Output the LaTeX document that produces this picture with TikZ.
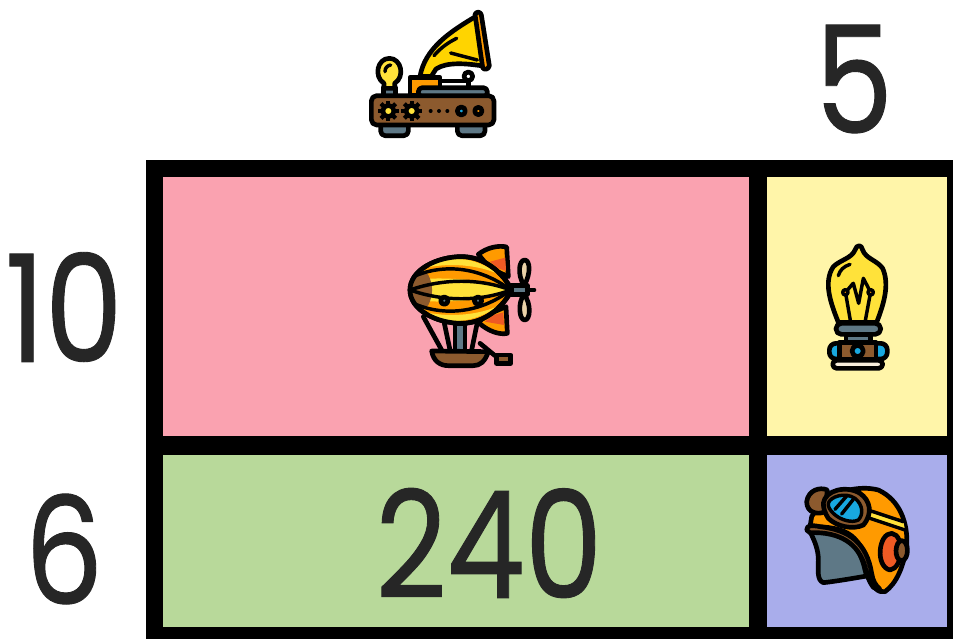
\documentclass[tikz,border=0pt]{standalone}
\usepackage{fontspec}
\setmainfont{Poppins}[FakeStretch=0.83, FakeBold=0.6]
\definecolor{cellpink}{HTML}{FAA2B0}
\definecolor{cellyellow}{HTML}{FFF5A9}
\definecolor{cellgreen}{HTML}{B8D99A}
\definecolor{cellblue}{HTML}{A9ADEB}
\definecolor{icyellow}{HTML}{FFE23A}
\definecolor{icgold}{HTML}{FFD400}
\definecolor{icorange}{HTML}{FF9A00}
\definecolor{icred}{HTML}{EE5A24}
\definecolor{icbrown}{HTML}{8C5A2E}
\definecolor{icslate}{HTML}{5E7886}
\definecolor{icblue}{HTML}{18A8E0}
\definecolor{ictan}{HTML}{EBD3A8}
\definecolor{inkdark}{HTML}{262626}
\begin{document}
\begin{tikzpicture}[x=0.75pt, y=-0.75pt,
  num/.style={font=\fontsize{112}{112}\selectfont, text=inkdark, inner sep=0pt},
  ic/.style={draw=black, line width=3.5pt, line join=round, line cap=round},
  thin/.style={draw=black, line width=2.6pt, line join=round, line cap=round},
  zoomed/.style={x=0.25pt, y=-0.25pt}]
  \useasboundingbox (0,0) rectangle (953,639);
  \clip (0,0) rectangle (953,639);
  % grid
  \fill[black] (146,160) rectangle (953,639);
  \fill[cellpink] (163,177) rectangle (749,436);
  \fill[cellyellow] (767,177) rectangle (947,436);
  \fill[cellgreen] (163,455) rectangle (749,627);
  \fill[cellblue] (767,455) rectangle (947,627);
  % numbers
  \node[num] (top) at (854,79) {5};
  \node[num] (left1) at (64,307) {10};
  \node[num] (left2) at (64,549) {6};
  \node[num] (total) at (489,543) {240};
  % gramophone
  \begin{scope}[shift={(360,5)}, zoomed]
    \filldraw[ic, fill=icslate] (62,355) -- (62,378) to[out=-90,in=180] (75,392) -- (132,392) to[out=0,in=-90] (145,378) -- (145,355) -- cycle;
    \filldraw[ic, fill=icslate] (292,355) -- (292,378) to[out=-90,in=180] (305,392) -- (362,392) to[out=0,in=-90] (375,378) -- (375,355) -- cycle;
    \filldraw[ic, fill=icgold] (180,214) .. controls (195,130) and (270,80) .. (348,34) -- (376,184) .. controls (320,175) and (260,170) .. (228,192) -- (214,214) -- cycle;
    \draw[thin] (222,152) .. controls (240,130) and (265,112) .. (290,100);
    \draw[thin] (272,144) -- (352,165);
    \filldraw[ic, fill=icorange] (345,28) .. controls (350,18) and (362,20) .. (364,30) -- (388,182) .. controls (386,194) and (372,196) .. (368,188) -- cycle;
    \filldraw[ic, fill=white] (240,228) -- (325,228) -- (325,260) -- (240,260) -- cycle;
    \filldraw[ic, fill=white] (325,214) circle (13);
    \filldraw[ic, fill=icorange] (150,218) rectangle (240,272);
    \filldraw[ic, fill=icslate, rounded corners=3pt] (175,248) rectangle (382,275);
    \filldraw[ic, fill=icslate] (70,248) rectangle (106,275);
    \filldraw[ic, fill=icyellow] (72,250) -- (72,235) .. controls (40,215) and (52,160) .. (88,160) .. controls (124,160) and (136,215) .. (104,235) -- (104,250) -- cycle;
    \draw[thin] (75,200) .. controls (75,188) and (82,182) .. (92,180);
    \filldraw[ic, fill=icbrown, rounded corners=4pt] (34,272) rectangle (402,360);
    \foreach \gx in {85,155} {
      \foreach \ga in {0,45,...,315}
        \draw[black, line width=3.2pt] (\gx,318) -- ++(\ga:31);
      \filldraw[ic, fill=icyellow] (\gx,318) circle (17);
    }
    \foreach \dx in {212,237,262}
      \fill[black] (\dx,318) circle (6);
    \filldraw[ic, fill=icblue] (304,318) circle (12);
    \filldraw[ic, fill=icorange] (355,318) circle (11);
  \end{scope}
  % airship
  \begin{scope}[shift={(400,235)}, zoomed]
    \filldraw[ic, fill=icorange] (235,58) .. controls (260,38) and (295,30) .. (320,36) -- (325,125) -- (270,100) -- cycle;
    \fill[icred] (270,80) -- (316,68) -- (318,108) -- (295,100) -- cycle;
    \filldraw[ic, fill=icorange] (235,262) .. controls (265,290) and (300,300) .. (322,295) -- (318,215) -- (260,240) -- cycle;
    \fill[icred] (255,260) -- (312,270) -- (310,232) -- (280,240) -- cycle;
    \filldraw[ic, fill=icslate] (335,152) rectangle (382,178);
    \draw[ic] (382,165) -- (402,165);
    \filldraw[ic, fill=ictan] (372,152) .. controls (350,115) and (358,75) .. (374,75) .. controls (390,75) and (394,115) .. (372,152) -- cycle;
    \filldraw[ic, fill=ictan] (372,178) .. controls (352,205) and (358,255) .. (374,255) .. controls (392,255) and (394,205) .. (372,178) -- cycle;
    \filldraw[ic, fill=icslate] (165,265) rectangle (195,350);
    \draw[ic] (70,245) -- (125,345) (132,260) -- (150,345) (232,262) -- (215,345);
    \filldraw[ic, fill=icbrown] (95,348) -- (265,350) .. controls (255,380) and (240,392) .. (220,392) -- (145,392) .. controls (120,392) and (100,378) .. (95,348) -- cycle;
    \draw[ic] (240,325) -- (285,362) -- (300,365);
    \filldraw[ic, fill=icbrown] (290,360) rectangle (332,385);
    \filldraw[ic, fill=icorange] (30,165) .. controls (30,105) and (110,65) .. (185,65) .. controls (255,65) and (310,115) .. (335,165) .. controls (310,215) and (255,265) .. (185,265) .. controls (110,265) and (30,225) .. (30,165) -- cycle;
    \begin{scope}
      \clip (30,165) .. controls (30,105) and (110,65) .. (185,65) .. controls (255,65) and (310,115) .. (335,165) .. controls (310,215) and (255,265) .. (185,265) .. controls (110,265) and (30,225) .. (30,165) -- cycle;
      \fill[icyellow] (30,135) .. controls (120,125) and (250,130) .. (335,165) .. controls (250,200) and (120,205) .. (30,195) -- cycle;
      \fill[icyellow] (70,90) .. controls (130,62) and (220,60) .. (290,115) .. controls (220,85) and (130,85) .. (70,100) -- cycle;
      \fill[icyellow] (70,240) .. controls (130,268) and (220,268) .. (290,215) .. controls (220,245) and (130,245) .. (70,230) -- cycle;
      \fill[icbrown] (20,60) -- (85,120) .. controls (100,150) and (100,180) .. (85,210) -- (20,270) -- cycle;
    \end{scope}
    \draw[thin] (40,125) .. controls (130,85) and (240,95) .. (332,165);
    \draw[thin] (40,205) .. controls (130,245) and (240,235) .. (332,165);
    \draw[thin] (30,165) .. controls (130,130) and (240,130) .. (332,165);
    \draw[thin] (30,165) .. controls (130,200) and (240,200) .. (332,165);
    \filldraw[ic, fill=icslate] (133,197) circle (11);
    \filldraw[ic, fill=icslate] (234,197) circle (11);
    \draw[ic] (30,165) .. controls (30,105) and (110,65) .. (185,65) .. controls (255,65) and (310,115) .. (335,165) .. controls (310,215) and (255,265) .. (185,265) .. controls (110,265) and (30,225) .. (30,165) -- cycle;
  \end{scope}
  % bulb
  \begin{scope}[shift={(810,235)}, zoomed]
    \filldraw[ic, fill=icyellow] (85,262) .. controls (60,200) and (40,140) .. (70,95) .. controls (90,75) and (125,70) .. (135,45) .. controls (140,28) and (155,28) .. (158,45) .. controls (168,72) and (200,75) .. (218,100) .. controls (240,150) and (220,210) .. (200,262) -- cycle;
    \draw[thin] (85,122) .. controls (90,105) and (100,95) .. (120,88);
    \draw[thin] (122,262) -- (106,170) (165,262) -- (182,170);
    \draw[thin] (106,172) .. controls (118,160) and (124,150) .. (130,145) -- (146,205) -- (160,130) -- (182,172);
    \filldraw[thin, fill=icorange] (106,172) circle (8);
    \filldraw[thin, fill=icorange] (182,172) circle (8);
    \filldraw[ic, fill=icslate, rounded corners=4pt] (78,265) rectangle (212,298);
    \filldraw[ic, fill=icslate] (108,298) rectangle (182,322);
    \filldraw[ic, fill=icblue, rounded corners=5pt] (58,325) rectangle (232,372);
    \filldraw[ic, fill=icbrown] (88,322) rectangle (198,372);
    \filldraw[ic, fill=icblue] (143,348) circle (17);
    \filldraw[ic, fill=ictan!40!white, rounded corners=3pt] (68,376) rectangle (218,400);
  \end{scope}
  % helmet
  \begin{scope}[shift={(790,470)}, zoomed]
    \filldraw[ic, fill=icorange] (65,140) .. controls (110,60) and (210,45) .. (265,60) .. controls (330,90) and (355,160) .. (350,230) .. controls (340,290) and (320,340) .. (285,365) .. controls (265,370) and (245,350) .. (235,320) .. controls (220,190) and (170,170) .. (60,170) -- cycle;
    \fill[icyellow] (240,122) -- (340,155) -- (345,180) -- (240,145) -- cycle;
    \draw[thin] (240,122) -- (340,155) (240,145) -- (345,180);
    \filldraw[ic, fill=icslate] (60,185) .. controls (140,175) and (205,205) .. (225,300) -- (230,318) .. controls (190,325) and (130,335) .. (100,338) .. controls (80,330) and (85,300) .. (85,270) .. controls (85,240) and (75,215) .. (60,185) -- cycle;
    \filldraw[ic, fill=icbrown] (50,180) .. controls (50,165) and (65,165) .. (90,170) .. controls (180,180) and (230,220) .. (245,310) .. controls (248,330) and (255,345) .. (270,358) -- (250,352) .. controls (235,330) and (232,320) .. (225,290) .. controls (205,220) and (150,185) .. (60,188) -- cycle;
    \filldraw[ic, fill=icred] (305,190) .. controls (265,190) and (255,290) .. (300,300) .. controls (340,295) and (345,195) .. (305,190) -- cycle;
    \filldraw[ic, fill=icbrown] (335,212) .. controls (315,212) and (310,270) .. (335,272) .. controls (358,270) and (358,212) .. (335,212) -- cycle;
    \filldraw[ic, fill=icbrown] (50,95) .. controls (55,60) and (90,50) .. (112,60) -- (105,125) .. controls (85,135) and (50,130) .. (50,95) -- cycle;
    \filldraw[ic, fill=icbrown] (100,100) .. controls (105,60) and (170,45) .. (210,70) .. controls (240,90) and (250,130) .. (220,165) .. controls (190,180) and (140,170) .. (115,145) .. controls (105,130) and (100,115) .. (100,100) -- cycle;
    \filldraw[thin, fill=icblue] (115,100) .. controls (120,80) and (165,65) .. (195,85) .. controls (220,105) and (220,135) .. (205,150) .. controls (185,160) and (150,150) .. (130,130) .. controls (120,120) and (113,110) .. (115,100) -- cycle;
    \draw[thin] (135,118) -- (170,78) (155,132) -- (190,88);
  \end{scope}
\end{tikzpicture}
\end{document}
